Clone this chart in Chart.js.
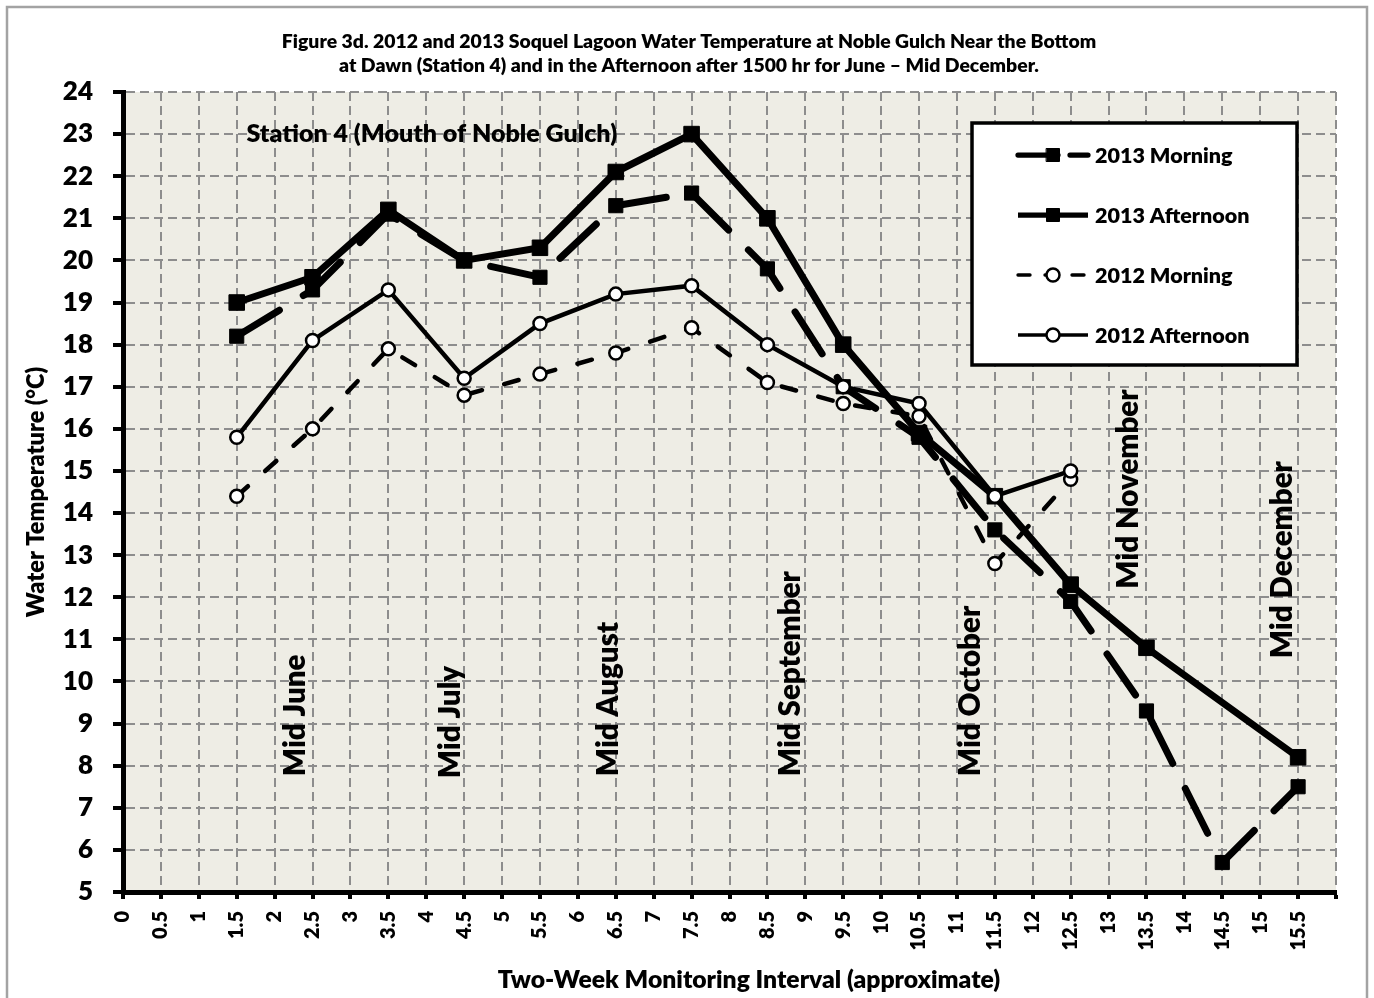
<!DOCTYPE html>
<html>
<head>
<meta charset="utf-8">
<title>Soquel Lagoon Water Temperature – Station 4</title>
<script src="https://cdn.jsdelivr.net/npm/chart.js@4.4.1/dist/chart.umd.min.js"></script>
<style>
  html, body { margin: 0; padding: 0; background: #ffffff; }
  canvas { display: block; }
</style>
</head>
<body>
<canvas id="chart" width="1374" height="998"></canvas>
<script>
// Two-week monitoring intervals (x positions of the samples)
const intervals = [1.5, 2.5, 3.5, 4.5, 5.5, 6.5, 7.5, 8.5, 9.5, 10.5, 11.5, 12.5, 13.5, 14.5, 15.5];

// Water temperature (°C) per interval; null = no reading
const morning2013   = [18.2, 19.3, 21.1, 20.0, 19.6, 21.3, 21.6, 19.8, 17.0, 15.8, 13.6, 11.9, 9.3, 5.7, 7.5];
const afternoon2013 = [19.0, 19.6, 21.2, 20.0, 20.3, 22.1, 23.0, 21.0, 18.0, 15.9, 14.4, 12.3, 10.8, null, 8.2];
const morning2012   = [14.4, 16.0, 17.9, 16.8, 17.3, 17.8, 18.4, 17.1, 16.6, 16.3, 12.8, 14.8];
const afternoon2012 = [15.8, 18.1, 19.3, 17.2, 18.5, 19.2, 19.4, 18.0, 17.0, 16.6, 14.4, 15.0];

// Axis tick labels
const xTickLabels = ['0', '0.5', '1', '1.5', '2', '2.5', '3', '3.5', '4', '4.5', '5', '5.5', '6', '6.5',
  '7', '7.5', '8', '8.5', '9', '9.5', '10', '10.5', '11', '11.5', '12', '12.5', '13', '13.5', '14',
  '14.5', '15', '15.5', ''];
const yTickLabels = ['5', '6', '7', '8', '9', '10', '11', '12', '13', '14', '15', '16', '17', '18', '19',
  '20', '21', '22', '23', '24'];

// Text
const titleLines = [
  'Figure 3d. 2012 and 2013 Soquel Lagoon Water Temperature at Noble Gulch Near the Bottom',
  'at Dawn (Station 4) and in the Afternoon after 1500 hr for June \u2013 Mid December.'
];
const stationLabel = 'Station 4 (Mouth of Noble Gulch)';
const monthLabels = ['Mid June', 'Mid July', 'Mid August', 'Mid September', 'Mid October', 'Mid November', 'Mid December'];
const seriesNames = ['2013 Morning', '2013 Afternoon', '2012 Morning', '2012 Afternoon'];
const xTitle = 'Two-Week Monitoring Interval (approximate)';
const yTitle = 'Water Temperature (\u00B0C)';

// ---- presentation ----
const FONT = 'Lato, "Liberation Sans", sans-serif';
const W = '800';
const PLOT_BG = '#eeede5';
const GRID = '#8d8d8d';

// placement of the month markers (x interval, bottom of text in °C)
const monthPlacement = [[2.28, 7.75], [4.32, 7.7], [6.4, 7.75], [8.8, 7.75], [11.18, 7.75], [13.26, 12.2], [15.3, 10.55]];

function points(values) {
  return values.map((v, i) => ({ x: intervals[i], y: v }));
}

const styles = [
  { width: 7, dash: [50, 28], legendDash: [40, 12], point: 'rect', radius: 10, bg: '#000', bw: 1, order: 3 },
  { width: 7, dash: [],       legendDash: [],       point: 'rect', radius: 11, bg: '#000', bw: 1, order: 2 },
  { width: 4.5, dash: [15, 23], legendDash: [12, 15], point: 'circle', radius: 6.5, bg: '#fff', bw: 2.5, order: 1 },
  { width: 4.5, dash: [],       legendDash: [],       point: 'circle', radius: 6.5, bg: '#fff', bw: 2.5, order: 0 }
];
const seriesValues = [morning2013, afternoon2013, morning2012, afternoon2012];

const datasets = seriesValues.map((vals, i) => {
  const s = styles[i];
  return {
    label: seriesNames[i],
    data: points(vals),
    borderColor: '#000',
    borderWidth: s.width,
    borderDash: s.dash,
    borderCapStyle: s.dash.length ? 'round' : 'butt',
    borderJoinStyle: 'miter',
    pointStyle: s.point,
    pointRadius: s.radius,
    pointBackgroundColor: s.bg,
    pointBorderColor: '#000',
    pointBorderWidth: s.bw,
    spanGaps: true,
    tension: 0,
    fill: false,
    order: s.order
  };
});

const framePlugin = {
  id: 'frame',
  beforeDraw(chart) {
    const { ctx, chartArea: a } = chart;
    ctx.save();
    ctx.fillStyle = '#ffffff';
    ctx.fillRect(0, 0, chart.width, chart.height);
    ctx.strokeStyle = '#a3a3a3';
    ctx.lineWidth = 2.5;
    ctx.strokeRect(7, 7, chart.width - 14, chart.height + 20);
    ctx.fillStyle = PLOT_BG;
    ctx.fillRect(a.left, a.top, a.right - a.left, a.bottom - a.top);
    ctx.restore();
  }
};

const annotationPlugin = {
  id: 'annotations',
  beforeDatasetsDraw(chart) {
    const { ctx, scales: { x, y } } = chart;
    ctx.save();
    ctx.fillStyle = '#000';
    // station name
    ctx.font = W + ' 25px ' + FONT;
    ctx.textAlign = 'left';
    ctx.textBaseline = 'middle';
    ctx.fillText(stationLabel, x.getPixelForValue(1.63), y.getPixelForValue(23));
    // month markers, reading upward
    ctx.font = W + ' 29.5px ' + FONT;
    monthLabels.forEach((t, i) => {
      const [xv, yv] = monthPlacement[i];
      ctx.save();
      ctx.translate(x.getPixelForValue(xv), y.getPixelForValue(yv));
      ctx.rotate(-Math.PI / 2);
      ctx.textAlign = 'left';
      ctx.textBaseline = 'middle';
      ctx.fillText(t, 0, 0);
      ctx.restore();
    });
    ctx.restore();
  },
  afterDraw(chart) {
    const { ctx, chartArea: a } = chart;
    ctx.save();
    ctx.fillStyle = '#000';
    // title
    ctx.font = W + ' 19.4px ' + FONT;
    ctx.textAlign = 'center';
    ctx.textBaseline = 'middle';
    ctx.fillText(titleLines[0], 689, 42);
    ctx.fillText(titleLines[1], 689, 66);
    // axis titles
    ctx.font = W + ' 24.7px ' + FONT;
    ctx.fillText(xTitle, 749, 980);
    ctx.save();
    ctx.font = W + ' 23.5px ' + FONT;
    ctx.translate(36, (a.top + a.bottom) / 2);
    ctx.rotate(-Math.PI / 2);
    ctx.fillText(yTitle, 0, 0);
    ctx.restore();

    // legend box
    const bx = 972, by = 123, bw = 325, bh = 242;
    ctx.fillStyle = '#ffffff';
    ctx.fillRect(bx, by, bw, bh);
    ctx.strokeStyle = '#000';
    ctx.lineWidth = 3.5;
    ctx.strokeRect(bx, by, bw, bh);
    const rows = [155, 215, 275, 335];
    rows.forEach((ry, i) => {
      const s = styles[i];
      ctx.save();
      ctx.strokeStyle = '#000';
      ctx.lineWidth = s.width * 0.75;
      ctx.setLineDash(s.legendDash);
      ctx.lineCap = s.legendDash.length ? 'round' : 'butt';
      ctx.beginPath();
      ctx.moveTo(1018, ry);
      ctx.lineTo(1088, ry);
      ctx.stroke();
      ctx.setLineDash([]);
      ctx.fillStyle = s.bg;
      ctx.strokeStyle = '#000';
      ctx.lineWidth = s.bw;
      ctx.beginPath();
      if (s.point === 'rect') {
        ctx.rect(1053 - 6.5, ry - 6.5, 13, 13);
      } else {
        ctx.arc(1053, ry, 6.5, 0, Math.PI * 2);
      }
      ctx.fill();
      ctx.stroke();
      ctx.restore();
      ctx.fillStyle = '#000';
      ctx.font = W + ' 21.5px ' + FONT;
      ctx.textAlign = 'left';
      ctx.textBaseline = 'middle';
      ctx.fillText(seriesNames[i], 1095, ry + 1);
    });
    ctx.restore();
  }
};

function build() {
  new Chart(document.getElementById('chart'), {
    type: 'line',
    data: { datasets },
    plugins: [framePlugin, annotationPlugin],
    options: {
      responsive: false,
      animation: false,
      events: [],
      layout: { padding: { top: 92, right: 38, left: 0, bottom: 0 } },
      plugins: { legend: { display: false }, tooltip: { enabled: false }, title: { display: false } },
      scales: {
        x: {
          type: 'linear', min: 0, max: 16,
          afterFit(scale) { scale.height = 106; },
          afterBuildTicks(scale) {
            scale.ticks = xTickLabels.map((_, i) => ({ value: i * 0.5 }));
          },
          ticks: {
            autoSkip: false, maxRotation: 90, minRotation: 90,
            padding: 12, color: '#000',
            font: { family: FONT, weight: W, size: 20 },
            callback: (v, i) => xTickLabels[i]
          },
          grid: { color: GRID, lineWidth: 2, drawTicks: true, tickLength: 7, tickColor: '#000', tickWidth: 4 },
          border: { display: true, color: '#000', width: 5, dash: [9, 5] }
        },
        y: {
          type: 'linear', min: 5, max: 24,
          afterFit(scale) { scale.width = 123; },
          afterBuildTicks(scale) {
            scale.ticks = yTickLabels.map((t) => ({ value: Number(t) }));
          },
          ticks: {
            padding: 20, color: '#000',
            font: { family: FONT, weight: W, size: 26 },
            callback: (v, i) => yTickLabels[i]
          },
          grid: { color: GRID, lineWidth: 2, drawTicks: true, tickLength: 10, tickColor: '#000', tickWidth: 4 },
          border: { display: true, color: '#000', width: 5, dash: [9, 5] }
        }
      }
    }
  });
}

if (document.fonts && document.fonts.load) {
  Promise.all([document.fonts.load('800 20px Lato'), document.fonts.load('bold 20px Lato')])
    .then(build, build);
} else {
  build();
}
</script>
</body>
</html>
